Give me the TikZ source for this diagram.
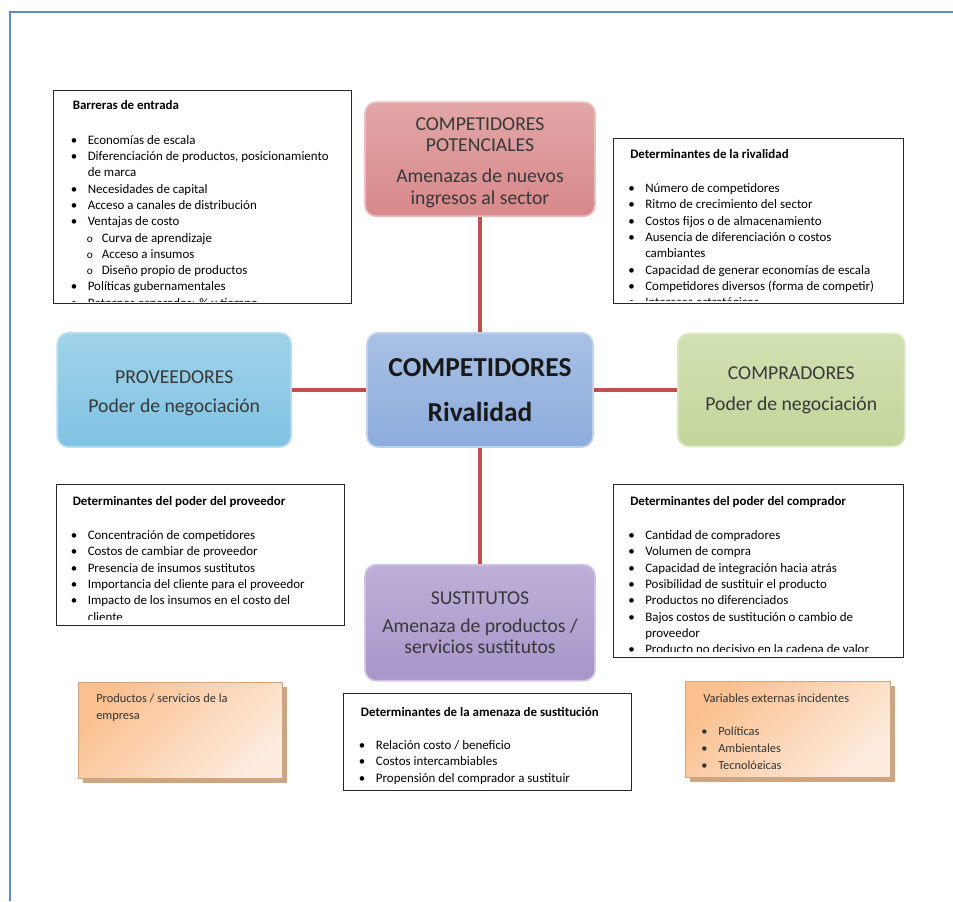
\documentclass[tikz,border=0pt]{standalone}
\usepackage{fontspec}
\setmainfont{Carlito}
\usetikzlibrary{positioning,shadows}
\definecolor{frameblue}{HTML}{5B8CCB}
\definecolor{linkred}{HTML}{C0504D}
\definecolor{potred}{HTML}{D8888A}
\definecolor{provblue}{HTML}{80C3E3}
\definecolor{rivblue}{HTML}{8CACDC}
\definecolor{compgreen}{HTML}{C2D69A}
\definecolor{sustviolet}{HTML}{A895CA}
\definecolor{notepeach}{HTML}{FAC08F}
\definecolor{notelight}{HTML}{FDEBDD}
\definecolor{noteshadow}{HTML}{C79C74}

\newcommand\bul{\makebox[0.375cm][l]{\hspace{-0.05cm}\textbullet}}
\newcommand\subbul{\hspace{0.35cm}\makebox[0.375cm][l]{\footnotesize o}}
\newcommand\cont{\hspace{0.375cm}}

\begin{document}
\begin{tikzpicture}[
  x=0.025cm, y=-0.025cm,
  forcebox/.style={rounded corners=8pt, draw=#1!55!white, line width=1.2pt,
    top color=#1!75!white, bottom color=#1, align=center, text=black!78,
    font=\fontsize{14}{15}\selectfont, minimum width=5.75cm, minimum height=2.85cm},
  detbox/.style={draw=black!85, line width=0.9pt, fill=white, anchor=north west},
  dettext/.style={anchor=north west, inner sep=0pt, align=left,
    font=\fontsize{9.2}{11.6}\selectfont},
  notebox/.style={draw=notepeach!85!black, line width=0.5pt, anchor=north west,
    top color=notepeach, bottom color=notelight, shading angle=45,
    drop shadow={shadow xshift=3pt, shadow yshift=-3pt, fill=noteshadow, opacity=0.9}},
  notetext/.style={anchor=north west, inner sep=0pt, align=left, text=black!80,
    font=\fontsize{8.8}{12}\selectfont},
  link/.style={linkred, line width=2.2pt}
]
  \useasboundingbox (0,0) rectangle (953,901);

  % --- Page frame ---
  \draw[frameblue, line width=1.6pt] (10,901) -- (10,12) -- (953,12);

  % --- Five forces ---
  \node[forcebox=rivblue, minimum width=5.65cm, text=black!90,
    font=\fontsize{19.5}{23}\selectfont\bfseries]
    (comp) at (480,390) {COMPETIDORES\\[0.3cm]Rivalidad};
  \node[forcebox=potred, above=2.875cm of comp] (pot)
    {\rule{0pt}{14pt}COMPETIDORES\\POTENCIALES\\[0.25cm]Amenazas de nuevos\\ingresos al sector};
  \node[forcebox=provblue, minimum width=5.85cm, left=1.85cm of comp] (prov)
    {\rule{0pt}{14pt}PROVEEDORES\\[0.2cm]Poder de negociación};
  \node[forcebox=compgreen, minimum width=5.675cm, minimum height=2.825cm,
    right=2.075cm of comp] (compr) {COMPRADORES\\[0.25cm]Poder de negociación};
  \node[forcebox=sustviolet, minimum height=2.9cm, below=2.9cm of comp] (sust)
    {SUSTITUTOS\\[0.15cm]Amenaza de productos /\\servicios sustitutos};

  % Links to the centre
  \draw[link] (pot) -- (comp);
  \draw[link] (prov) -- (comp);
  \draw[link] (comp) -- (compr);
  \draw[link] (comp) -- (sust);

  % --- Barreras de entrada ---
  \node[detbox, minimum width=7.45cm, minimum height=5.325cm] (barr) at (53,90) {};
  \begin{scope}
    \clip ([shift={(2,2)}]barr.north west) rectangle ([shift={(-2,-3)}]barr.south east);
    \node[dettext] (barrtxt) at (72.5,100.5) {\textbf{Barreras de entrada}\\[0.45cm]
      \bul Economías de escala\\
      \bul Diferenciación de productos, posicionamiento\\
      \cont de marca\\
      \bul Necesidades de capital\\
      \bul Acceso a canales de distribución\\
      \bul Ventajas de costo\\
      \subbul Curva de aprendizaje\\
      \subbul Acceso a insumos\\
      \subbul Diseño propio de productos\\
      \bul Políticas gubernamentales\\
      \bul Retornos esperados: \% y tiempo};
  \end{scope}

  % --- Determinantes de la rivalidad ---
  \node[detbox, minimum width=7.25cm, minimum height=4.125cm] (rival) at (613,138) {};
  \begin{scope}
    \clip ([shift={(2,2)}]rival.north west) rectangle ([shift={(-2,-4)}]rival.south east);
    \node[dettext] (rivaltxt) at (630,149) {\textbf{Determinantes de la rivalidad}\\[0.45cm]
      \bul Número de competidores\\
      \bul Ritmo de crecimiento del sector\\
      \bul Costos fijos o de almacenamiento\\
      \bul Ausencia de diferenciación o costos\\
      \cont cambiantes\\
      \bul Capacidad de generar economías de escala\\
      \bul Competidores diversos (forma de competir)\\
      \bul Intereses estratégicos};
  \end{scope}

  % --- Determinantes del poder del proveedor ---
  \node[detbox, minimum width=7.2cm, minimum height=3.525cm] (prvdet) at (56,484) {};
  \begin{scope}
    \clip ([shift={(2,2)}]prvdet.north west) rectangle ([shift={(-2,-7)}]prvdet.south east);
    \node[dettext] (prvtxt) at (72.5,496) {\textbf{Determinantes del poder del proveedor}\\[0.45cm]
      \bul Concentración de competidores\\
      \bul Costos de cambiar de proveedor\\
      \bul Presencia de insumos sustitutos\\
      \bul Importancia del cliente para el proveedor\\
      \bul Impacto de los insumos en el costo del\\
      \cont cliente};
  \end{scope}

  % --- Determinantes del poder del comprador ---
  \node[detbox, minimum width=7.25cm, minimum height=4.325cm] (cmpdet) at (613,484) {};
  \begin{scope}
    \clip ([shift={(2,2)}]cmpdet.north west) rectangle ([shift={(-2,-7)}]cmpdet.south east);
    \node[dettext] (cmptxt) at (630,496) {\textbf{Determinantes del poder del comprador}\\[0.45cm]
      \bul Cantidad de compradores\\
      \bul Volumen de compra\\
      \bul Capacidad de integración hacia atrás\\
      \bul Posibilidad de sustituir el producto\\
      \bul Productos no diferenciados\\
      \bul Bajos costos de sustitución o cambio de\\
      \cont proveedor\\
      \bul Producto no decisivo en la cadena de valor};
  \end{scope}

  % --- Determinantes de la amenaza de sustitución ---
  \node[detbox, minimum width=7.2cm, minimum height=2.425cm] (sustdet) at (343,693) {};
  \begin{scope}
    \clip ([shift={(2,2)}]sustdet.north west) rectangle ([shift={(-2,-2)}]sustdet.south east);
    \node[dettext] (susttxt) at (360.7,707) {\textbf{Determinantes de la amenaza de sustitución}\\[0.42cm]
      \bul Relación costo / beneficio\\
      \bul Costos intercambiables\\
      \bul Propensión del comprador a sustituir};
  \end{scope}

  % --- Notas ---
  \node[notebox, minimum width=5.1cm, minimum height=2.4cm] (prodnote) at (78,682) {};
  \node[notetext] (prodtxt) at (96,694) {Productos / servicios de la\\empresa};

  \node[notebox, minimum width=5.125cm, minimum height=2.4cm] (varnote) at (685,681) {};
  \begin{scope}
    \clip ([shift={(1,1)}]varnote.north west) rectangle ([shift={(-1,-9)}]varnote.south east);
    \node[notetext] (vartxt) at (703,694) {Variables externas incidentes\\[0.4cm]
      \bul Políticas\\
      \bul Ambientales\\
      \bul Tecnológicas};
  \end{scope}

\end{tikzpicture}
\end{document}
